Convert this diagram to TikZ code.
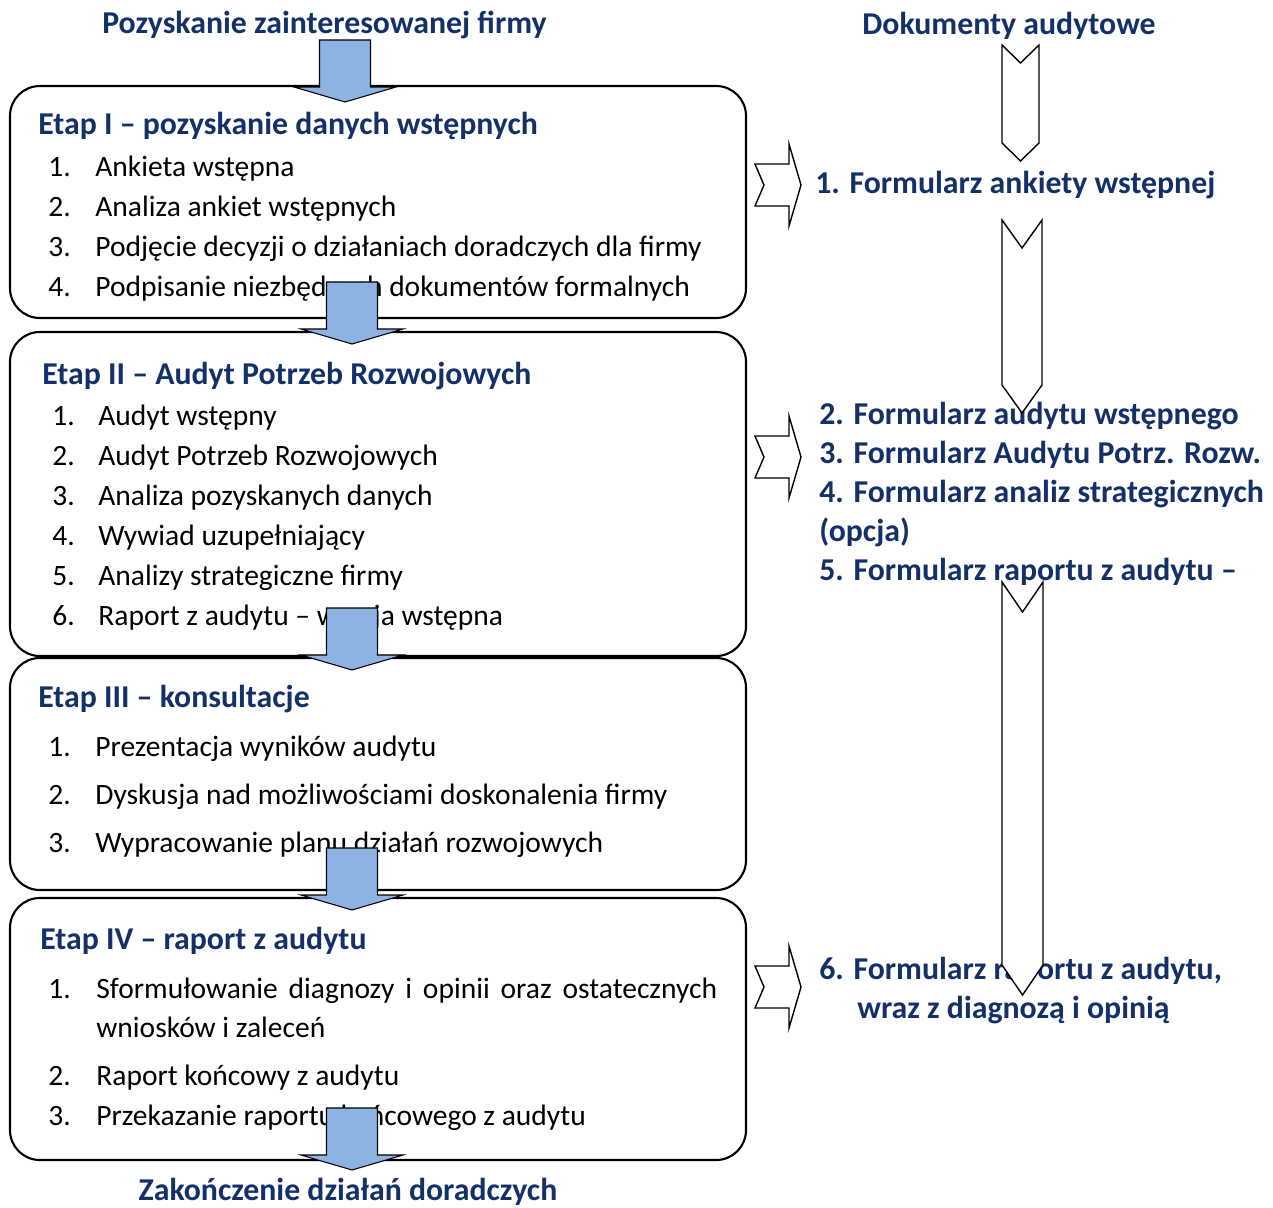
\documentclass[tikz,border=0pt]{standalone}
\usepackage{fontspec}
\setmainfont{Carlito}
\usetikzlibrary{fit}
\definecolor{navy}{RGB}{20,48,104}
\definecolor{arrowblue}{RGB}{141,179,226}
\tikzset{
  stagebox/.style={draw, line width=1.2pt, rounded corners=17pt, inner sep=0pt},
  heading/.style={anchor=base west, inner sep=0pt, text=navy,
    font=\fontsize{18.1}{22}\selectfont\bfseries},
  item/.style={anchor=base west, inner sep=0pt, font=\fontsize{16.8}{20}\selectfont},
  pics/bluedown/.style={code={
    \draw[fill=arrowblue, line width=0.6pt, line join=miter]
      (-25.5,0) -- (25.5,0) -- (25.5,47) -- (51,47) -- (0,62) -- (-51,47) -- (-25.5,47) -- cycle;}},
  pics/whitedown/.style n args={3}{code={
    \draw[fill=white, line width=0.8pt]
      (-#1,0) -- (0,#2) -- (#1,0) -- (#1,#3) -- (0,#3+#2) -- (-#1,#3) -- cycle;}},
  pics/whiteright/.style={code={
    \draw[fill=white, line width=0.8pt]
      (-23,-21) -- (11,-21) -- (11,-41) -- (23,0) -- (11,41) -- (11,21) -- (-23,21) -- (-14,0) -- cycle;}}
}
\begin{document}
\begin{tikzpicture}[x=0.02cm, y=-0.02cm]
  \useasboundingbox (0,0) rectangle (1273,1207);

  \node[stagebox, fit={(10,86) (746,318)}] (etap1) {};
  \node[stagebox, fit={(10,332) (746,656)}] (etap2) {};
  \node[stagebox, fit={(10,658) (746,890)}] (etap3) {};
  \node[stagebox, fit={(10,898) (746,1160)}] (etap4) {};

  \node[heading, anchor=base] (start) at (324.5,33) {Pozyskanie zainteresowanej firmy};
  \node[heading, anchor=base] (stop) at (348,1200) {Zakończenie działań doradczych};
  \node[heading, anchor=base] (docs) at (1009,34) {Dokumenty audytowe};

  \node[heading] (h1) at (38,134) {Etap I – pozyskanie danych wstępnych};
  \foreach \y/\t [count=\k] in {176/Ankieta wstępna, 216/Analiza ankiet wstępnych,
      256/Podjęcie decyzji o działaniach doradczych dla firmy,
      296/Podpisanie niezbędnych dokumentów formalnych}
    \node[item] (n1-\k) at (48,\y) {\k.} node[item] (t1-\k) at (95,\y) {\t};

  \node[heading] (h2) at (42,384) {Etap II – Audyt Potrzeb Rozwojowych};
  \foreach \y/\t [count=\k] in {425/Audyt wstępny, 465/Audyt Potrzeb Rozwojowych,
      505/Analiza pozyskanych danych, 545/Wywiad uzupełniający,
      585/Analizy strategiczne firmy, 625/Raport z audytu – wersja wstępna}
    \node[item] (n2-\k) at (52,\y) {\k.} node[item] (t2-\k) at (98,\y) {\t};

  \node[heading] (h3) at (38,707) {Etap III – konsultacje};
  \foreach \y/\t [count=\k] in {756/Prezentacja wyników audytu,
      804/Dyskusja nad możliwościami doskonalenia firmy,
      852/Wypracowanie planu działań rozwojowych}
    \node[item] (n3-\k) at (48,\y) {\k.} node[item] (t3-\k) at (95,\y) {\t};

  \node[heading] (h4) at (40,949) {Etap IV – raport z audytu};
  \node[item] (n4-1) at (48,998) {1.};
  \node[item] (t4-1) at (96,998)
    {\makebox[12.42cm][s]{Sformułowanie diagnozy i opinii oraz ostatecznych}};
  \node[item] (t4-1b) at (96,1037) {wniosków i zaleceń};
  \node[item] (n4-2) at (48,1085) {2.};
  \node[item] (t4-2) at (96,1085) {Raport końcowy z audytu};
  \node[item] (n4-3) at (48,1125) {3.};
  \node[item] (t4-3) at (96,1125) {Przekazanie raportu końcowego z audytu};

  \node[heading] (d1) at (815,193) {1. Formularz ankiety wstępnej};
  \node[heading] (d2) at (819,424) {2. Formularz audytu wstępnego};
  \node[heading] (d3) at (819,463) {3. Formularz Audytu Potrz. Rozw.};
  \node[heading] (d4) at (819,502) {4. Formularz analiz strategicznych};
  \node[heading] (d4b) at (819,541) {(opcja)};
  \node[heading] (d5) at (819,580) {5. Formularz raportu z audytu –};
  \node[heading] (d6) at (819,979) {6. Formularz raportu z audytu,};
  \node[heading] (d6b) at (857,1018) {wraz z diagnozą i opinią};

  \pic at (345,40) {bluedown};
  \pic at (352,282) {bluedown};
  \pic at (352,608) {bluedown};
  \pic at (352,848) {bluedown};
  \pic at (352,1108) {bluedown};

  \pic at (1020.5,45) {whitedown={18.5}{18}{98}};
  \pic at (1022,220) {whitedown={20}{28}{165}};
  \pic at (1022.5,582) {whitedown={20.5}{30}{383}};

  \pic at (778,185) {whiteright};
  \pic at (778,457) {whiteright};
  \pic at (778,987) {whiteright};
\end{tikzpicture}
\end{document}
